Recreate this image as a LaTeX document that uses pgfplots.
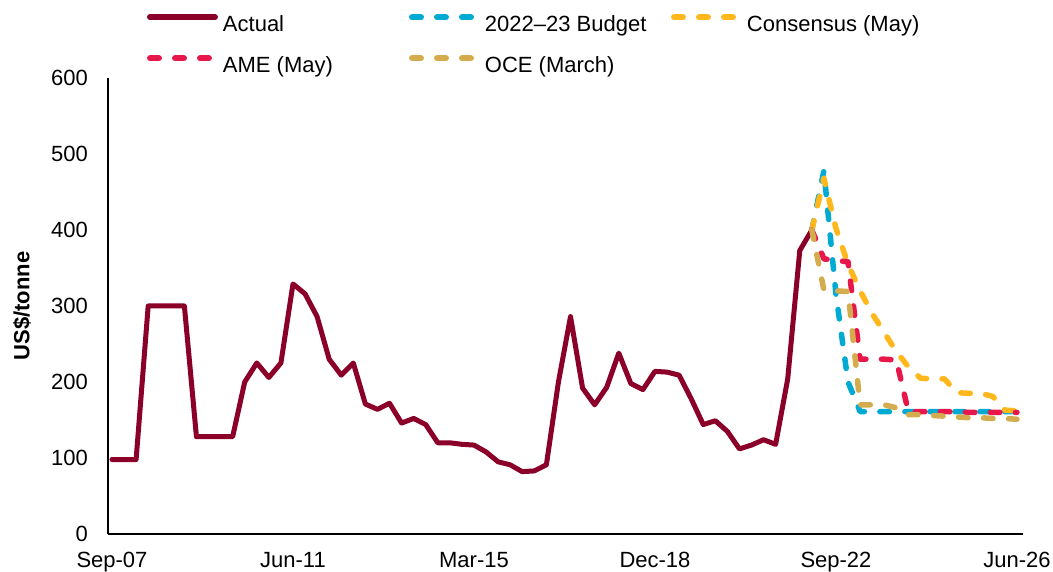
\documentclass[border=0pt]{standalone}
\usepackage{pgfplots}
\pgfplotsset{compat=1.18}
\usepackage{fontspec}
\setmainfont{Liberation Sans}
\definecolor{actual}{RGB}{139,0,41}
\definecolor{budget}{RGB}{0,170,210}
\definecolor{cons}{RGB}{255,183,28}
\definecolor{ame}{RGB}{232,23,75}
\definecolor{oce}{RGB}{212,172,78}
\newcommand{\lt}[1]{\makebox[186pt][l]{\rule[-5pt]{0pt}{21pt}#1}}
\pgfplotsset{
  leg solid/.style={legend image code/.code={\path[draw=none] (0pt,0pt) -- (76pt,0pt); \draw[##1, line width=6pt] (3pt,7.5pt) -- (68pt,7.5pt);}},
  leg dash/.style={legend image code/.code={\path[draw=none] (0pt,0pt) -- (76pt,0pt); \draw[##1, line width=6.5pt, dash pattern=on 8.5pt off 16.5pt] (3.25pt,7.5pt) -- (61.75pt,7.5pt);}},
  dashline/.style={line width=5.5pt, dash pattern=on 9.5pt off 15.5pt, line cap=round, line join=round, leg dash},
}
\begin{document}
\begin{tikzpicture}
\useasboundingbox (0,0) rectangle (1053pt,572pt);
\begin{axis}[
  at={(108pt,38pt)}, anchor=south west,
  scale only axis, width=915pt, height=456pt,
  xmin=-0.33, xmax=75.5, ymin=0, ymax=600,
  axis x line*=bottom, axis y line*=left,
  axis line style={line width=2.5pt, black},
  xtick={0,15,30,45,60,75},
  xticklabels={Sep-07,Jun-11,Mar-15,Dec-18,Sep-22,Jun-26},
  ytick={0,100,...,600},
  major tick length=0pt,
  tick style={draw=none},
  /pgf/number format/assume math mode=true,
  ticklabel style={font=\fontsize{22}{26}\selectfont, inner sep=0pt},
  xticklabel style={anchor=north, yshift=-18pt},
  yticklabel style={anchor=east, xshift=-20pt},
  ylabel={US\$/tonne},
  ylabel style={font=\fontsize{22}{26}\selectfont\bfseries, at={(axis description cs:-0.094,0.5)}, anchor=center},
  clip=false,
  legend columns=3,
  legend cell align=left,
  legend style={draw=none, fill=none, inner sep=0pt, outer sep=0pt, column sep=0pt, row sep=21.5pt,
    font=\fontsize{22}{26}\selectfont, at={(axis description cs:0.0426,1.1404)}, anchor=north west,
    nodes={inner sep=0pt}},
]
\addplot[color=actual, line width=5pt, line join=round, line cap=round, leg solid] table {
x y
0 98
1 98
2 98
3 300
4 300
5 300
6 300
7 128
8 128
9 128
10 128
11 200
12 225
13 206
14 225
15 329
16 316
17 286
18 230
19 209
20 225
21 171
22 164
23 172
24 146
25 152
26 144
27 120
28 120
29 118
30 117
31 108
32 95
33 91
34 82
35 83
36 91
37 200
38 286
39 192
40 170
41 193
42 238
43 198
44 190
45 214
46 213
47 209
48 178
49 144
50 149
51 135
52 112
53 117
54 124
55 118
56 204
57 373
58 400
};
\addlegendentry{\lt{Actual}}
\addplot[color=budget, dashline] table {
x y
58 400
59 478
60 315
61 200
62 161
63 161
64 161
65 161
66 161
67 161
68 161
69 161
70 161
71 161
72 161
73 161
74 161
75 161
};
\addlegendentry{\lt{2022–23 Budget}}
\addplot[color=cons, dashline] table {
x y
58 400
59 468
60 402
61 355
62 320
63 290
64 265
65 240
66 220
67 205
68 204
69 204
70 186
71 185
72 185
73 181
74 163
75 162
};
\addlegendentry{\lt{Consensus (May)}}
\addplot[color=ame, dashline] table {
x y
58 400
59 362
60 360
61 358
62 230
63 230
64 230
65 229
66 161
67 161
68 161
69 161
70 161
71 160
72 160
73 160
74 160
75 160
};
\addlegendentry{\lt{AME (May)}}
\addplot[color=oce, dashline] table {
x y
58 400
59 321
60 320
61 319
62 170
63 170
64 170
65 166
66 157
67 157
68 156
69 155
70 154
71 153
72 153
73 152
74 152
75 151
};
\addlegendentry{\lt{OCE (March)}}
\end{axis}
\end{tikzpicture}
\end{document}
